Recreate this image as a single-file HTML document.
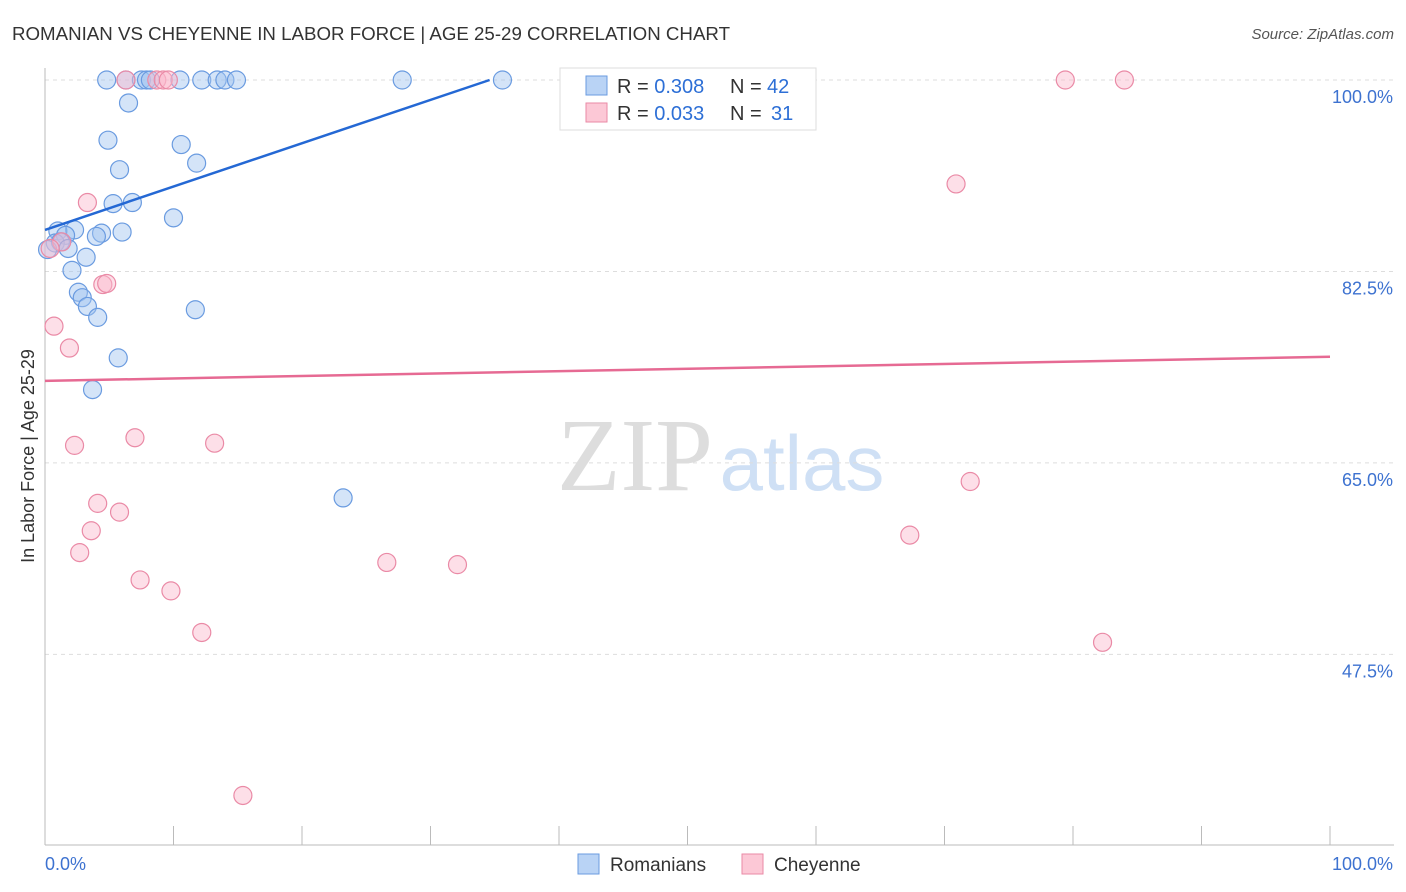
<!DOCTYPE html>
<html><head><meta charset="utf-8"><style>
body{margin:0;background:#fff;font-family:"Liberation Sans",sans-serif;}
svg{display:block}
</style></head><body>
<svg width="1406" height="892" xmlns="http://www.w3.org/2000/svg">
<text x="12" y="40" font-size="18" fill="#333" textLength="718" lengthAdjust="spacingAndGlyphs">ROMANIAN VS CHEYENNE IN LABOR FORCE | AGE 25-29 CORRELATION CHART</text>
<text x="1394" y="39" font-size="15" fill="#555" text-anchor="end" font-style="italic">Source: ZipAtlas.com</text>
<g>
<text x="635" y="490" font-size="104" fill="#ddd" text-anchor="middle" font-family="Liberation Serif,serif">ZIP</text>
<text x="802" y="490" font-size="78" fill="#cfe0f5" text-anchor="middle">atlas</text>
</g>
<g id="grid"></g>
<g id="axes"></g>
<text transform="translate(34,456) rotate(-90)" font-size="18" fill="#333" text-anchor="middle">In Labor Force | Age 25-29</text>
<g id="marks"></g>
<g>
<rect x="560" y="68" width="256" height="62" fill="#fff" stroke="#ddd"/>
<rect x="586" y="76" width="21" height="19" fill="#b9d3f5" stroke="#6a9be0"/>
<text x="617" y="93" font-size="20" fill="#333">R = <tspan fill="#2d6fd6">0.308</tspan></text>
<text x="730" y="93" font-size="20" fill="#333">N = <tspan fill="#2d6fd6" x="767">42</tspan></text>
<rect x="586" y="103" width="21" height="19" fill="#fcc8d6" stroke="#ea8aa6"/>
<text x="617" y="120" font-size="20" fill="#333">R = <tspan fill="#2d6fd6">0.033</tspan></text>
<text x="730" y="120" font-size="20" fill="#333">N = <tspan fill="#2d6fd6" x="771">31</tspan></text>
</g>
<g>
<rect x="578" y="854" width="21" height="20" fill="#b9d3f5" stroke="#6a9be0"/>
<text x="610" y="871" font-size="19" fill="#333">Romanians</text>
<rect x="742" y="854" width="21" height="20" fill="#fcc8d6" stroke="#ea8aa6"/>
<text x="774" y="871" font-size="19" fill="#333">Cheyenne</text>
</g>
</svg>
<script>
const blueX=[4.8,6.3,7.5,7.9,8.2,10.5,12.2,13.4,14.0,14.9,27.8,35.6,6.5,4.9,10.6,5.8,11.8,5.3,6.8,10.0,6.0,4.4,4.0,2.3,1.0,1.6,0.8,1.2,1.8,3.2,2.1,2.6,2.9,3.3,4.1,11.7,5.7,3.7,23.2,0.2];
const blueY=[100,100,100,100,100,100,100,100,100,100,100,100,97.9,94.5,94.1,91.8,92.4,88.7,88.8,87.4,86.1,86.0,85.7,86.3,86.2,85.8,85.1,85.2,84.6,83.8,82.6,80.6,80.1,79.3,78.3,79.0,74.6,71.7,61.8,84.5];
const pinkX=[6.3,8.7,9.2,9.6,79.4,84.0,70.9,3.3,1.3,0.4,4.5,4.8,0.7,1.9,7.0,13.2,2.3,72.0,4.1,5.8,3.6,2.7,67.3,26.6,32.1,7.4,9.8,12.2,82.3,15.4];
const pinkY=[100,100,100,100,100,100,90.5,88.8,85.2,84.6,81.3,81.4,77.5,75.5,67.3,66.8,66.6,63.3,61.3,60.5,58.8,56.8,58.4,55.9,55.7,54.3,53.3,49.5,48.6,34.6];
const blueTrend=[[0,86.3],[34.6,100]];
const pinkTrend=[[0,72.5],[100,74.7]];
const yTicks=[100,82.5,65,47.5];
const yTickLabels=["100.0%","82.5%","65.0%","47.5%"];
const xScale=v=>45+v*12.85;
const yScale=v=>80+(100-v)*10.94;
const NS="http://www.w3.org/2000/svg";
function mk(t,a,p){const e=document.createElementNS(NS,t);for(const k in a)e.setAttribute(k,a[k]);p.appendChild(e);return e;}
const grid=document.getElementById('grid'),axes=document.getElementById('axes'),marks=document.getElementById('marks');
yTicks.forEach((v,i)=>{
 const l=mk('line',{x1:45,x2:1394,y1:yScale(v),y2:yScale(v),stroke:'#ddd','stroke-dasharray':'4,4'},grid);
 
 
 const t=mk('text',{x:1393,y:yScale(v)+23,'font-size':18,fill:'#3d72d0','text-anchor':'end'},axes);
 t.textContent=yTickLabels[i];
 
 
});
mk('line',{x1:45,x2:45,y1:68,y2:845,stroke:'#bbb'},axes);
mk('line',{x1:45,x2:1394,y1:845,y2:845,stroke:'#bbb'},axes);
for(let i=0;i<=10;i++){const tk=mk('line',{x1:xScale(i*10),x2:xScale(i*10),y1:826,y2:845,stroke:'#bbb'},axes);
 
 }
const x0=mk('text',{x:45,y:870,'font-size':18,fill:'#3d72d0'},axes);x0.textContent='0.0%';


const x1=mk('text',{x:1393,y:870,'font-size':18,fill:'#3d72d0','text-anchor':'end'},axes);x1.textContent='100.0%';


blueX.forEach((x,i)=>{const c=mk('circle',{cx:xScale(x),cy:yScale(blueY[i]),r:9,fill:'rgba(160,195,240,0.45)',stroke:'#6a9be0','stroke-width':1.2},marks);
 
 });
pinkX.forEach((x,i)=>{const c=mk('circle',{cx:xScale(x),cy:yScale(pinkY[i]),r:9,fill:'rgba(250,185,205,0.45)',stroke:'#ea8aa6','stroke-width':1.2},marks);
 
 });
const bt=mk('line',{x1:xScale(blueTrend[0][0]),y1:yScale(blueTrend[0][1]),x2:xScale(blueTrend[1][0]),y2:yScale(blueTrend[1][1]),stroke:'#2468d4','stroke-width':2.5},marks);


const pt=mk('line',{x1:xScale(pinkTrend[0][0]),y1:yScale(pinkTrend[0][1]),x2:xScale(pinkTrend[1][0]),y2:yScale(pinkTrend[1][1]),stroke:'#e66a93','stroke-width':2.5},marks);


</script>
</body></html>
